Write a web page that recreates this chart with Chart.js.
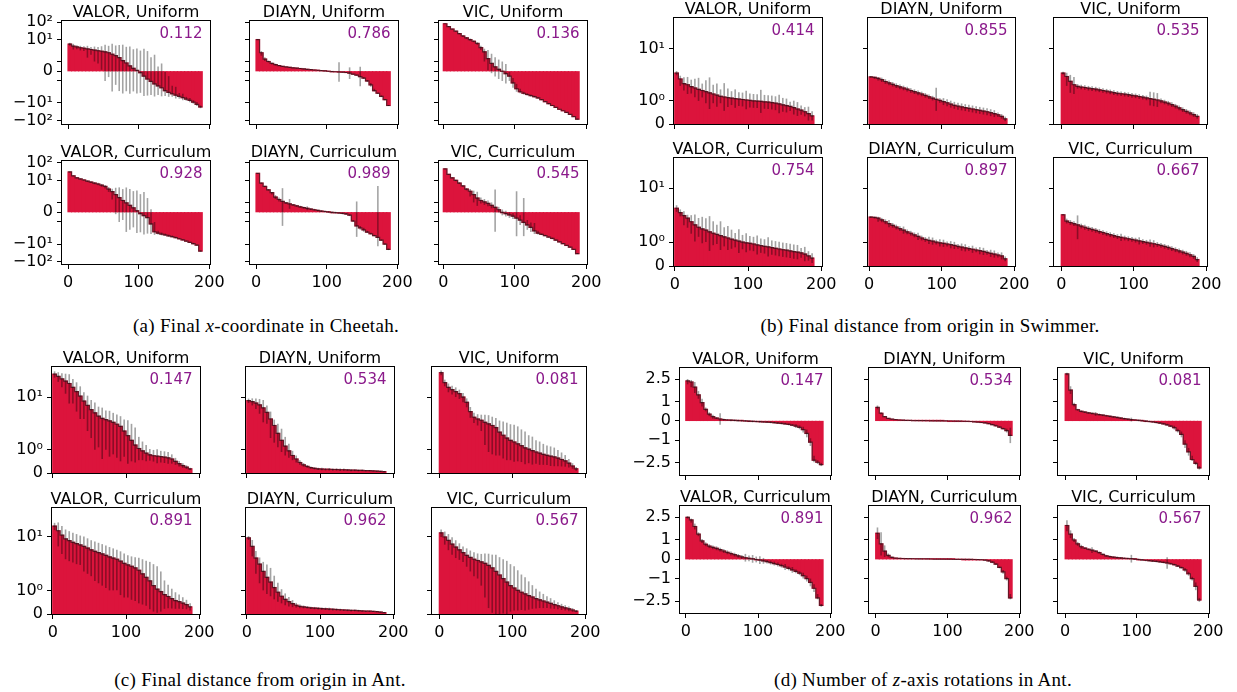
<!DOCTYPE html>
<html>
<head>
<meta charset="utf-8">
<title>Skill discovery rollouts</title>
<script src="https://cdn.jsdelivr.net/npm/chart.js"></script>
<style>
  body { margin:0; background:#fff; }
  #fig { position:relative; width:1237px; height:692px; overflow:hidden; font-family:'DejaVu Sans', sans-serif; }
  .plot { position:absolute; }
  .ttl { position:absolute; font-size:16px; line-height:16px; text-align:center; white-space:nowrap; color:#000; }
  .score { position:absolute; font-size:15px; line-height:16px; text-align:right; white-space:nowrap; color:#8b1a8b; }
  .cap { position:absolute; font-family:'Liberation Serif', serif; font-size:19px; letter-spacing:0.3px; line-height:20px; white-space:nowrap; transform:translateX(-50%); }
</style>
</head>
<body>
<div id="fig"></div>
<script>
// bar positions (every 5th rank), shared by all panels
const ranks = [0,5,10,15,20,25,30,35,40,45,50,55,60,65,70,75,80,85,90,95,100,105,110,115,120,125,130,135,140,145,150,155,160,165,170,175,180,185];
const lastRank = 190;
const xTicks = [0, 100, 200];
const methods = ['VALOR', 'DIAYN', 'VIC'];
const schedules = ['Uniform', 'Curriculum'];

// (a) cheetah final x
const aValorUni = [5.5,4.2,3.8,3.4,3.2,2.9,2.7,2.5,2.3,2.15,2.0,1.9,1.75,1.6,1.4,1.1,0.85,0.55,0.3,0.08,-0.15,-0.5,-0.8,-1.05,-1.3,-1.5,-1.7,-2.0,-2.5,-3.0,-3.6,-4.2,-5.0,-6.0,-7.2,-9,-12,-17];
const aDiaynUni = [10,1.9,1.25,1.0,0.8,0.68,0.58,0.5,0.44,0.4,0.35,0.32,0.28,0.24,0.2,0.17,0.13,0.1,0.06,0.03,0.0,-0.03,-0.05,-0.08,-0.1,-0.13,-0.2,-0.3,-0.4,-0.55,-0.7,-1.0,-1.4,-2.0,-2.8,-4.2,-6.5,-14];
const aVicUni = [80,55,40,30,22,16,12.5,10,8,6,3.5,2,1.3,0.8,0.45,0.2,0,-0.25,-0.5,-1.2,-1.8,-2.3,-2.8,-3.3,-3.8,-4.4,-5.2,-6.5,-8.5,-11,-14,-18,-23,-28,-35,-45,-60,-85];
const aValorCur = [30,18,14,12,10.5,9,8,7,6.2,5.3,4.5,3.2,2.3,1.8,1.5,1.2,0.95,0.7,0.45,0.15,-0.15,-0.35,-0.55,-1.2,-2.0,-2.4,-2.7,-3.0,-3.4,-3.8,-4.3,-5.0,-5.8,-6.8,-8.0,-9.5,-11.5,-25];
const aDiaynCur = [25,7,4.5,2.9,2.0,1.55,1.3,1.1,0.95,0.85,0.75,0.65,0.55,0.47,0.4,0.32,0.25,0.18,0.12,0.07,0.02,-0.02,-0.05,-0.08,-0.12,-0.18,-0.3,-0.9,-1.4,-1.6,-1.8,-2.1,-2.6,-3.3,-4.2,-6,-10,-20];
const aVicCur = [45,22,14,10,7,4.8,3.2,2.4,1.8,1.45,1.2,1.05,0.9,0.7,0.5,0.25,-0.02,-0.15,-0.28,-0.4,-0.6,-0.8,-1.05,-1.3,-1.55,-1.9,-2.4,-2.8,-3.3,-4.0,-4.8,-6,-7.5,-9.5,-12,-15,-20,-35];
const aValorUniErr = [1,1.5,1,1,1,1.5,1,1.5,1.5,2,3,2.5,4,3,3.5,4,3,3.5,2.5,3,2.5,3.5,3,2.5,3,2,2.5,2,2,1.5,2,1.5,2,1.5,2,2,3,3];
const aDiaynUniErr = [0.5,0.3,0.2,0.1,0.1,0.1,0.05,0.05,0.05,0.05,0.05,0.05,0.05,0.05,0.05,0.05,0.05,0.05,0.05,0.05,0.05,0.05,0.05,1.0,0.05,0.05,0.6,0.05,0.05,1.0,0.1,0.1,0.2,0.2,0.3,0.5,0.5,1];
const aVicUniErr = [3,3,2,2,2,2,1.5,1.5,1,1,1,1,1.2,1,1,1,1,1,0.5,0.5,0.5,0.5,0.5,0.5,0.5,0.5,0.5,0.5,0.5,1,1,1,1,1,2,2,3,5];
const aValorCurErr = [2,1,1,1,1,1,1,1,1,1,1,1,1,2,2.5,2,3,2.5,2,2.5,2,2.5,2,1.5,1,0.5,0.5,0.5,0.5,0.5,0.5,0.5,0.5,0.5,0.5,1,1,2];
const aDiaynCurErr = [1,0.5,0.5,0.3,0.2,0.2,0.2,2.5,0.1,0.5,0.1,0.1,0.1,0.1,0.2,0.1,0.1,0.1,0.1,0.1,0.1,0.1,0.1,0.1,0.1,0.1,0.1,0.1,2.5,0.2,0.2,0.2,0.3,0.3,9,0.5,1,2];
const aVicCurErr = [2,1,1,1,0.8,0.5,0.5,0.8,0.8,0.8,0.3,0.3,0.3,0.3,2.5,0.3,0.3,0.3,0.3,0.3,3,0.5,2.5,0.5,0.5,0.8,0.5,0.3,0.3,0.3,0.5,0.5,0.5,0.5,0.5,1,1,2];

// (b) swimmer distance
const bValorUni = [2.6,1.95,1.75,1.7,1.62,1.56,1.5,1.45,1.4,1.35,1.3,1.25,1.2,1.17,1.14,1.12,1.1,1.08,1.06,1.04,1.02,1.0,0.99,0.98,0.96,0.95,0.93,0.9,0.87,0.83,0.8,0.76,0.71,0.65,0.6,0.53,0.45,0.35];
const bDiaynUni = [2.1,2.05,1.98,1.92,1.84,1.78,1.72,1.66,1.61,1.56,1.51,1.45,1.4,1.35,1.3,1.24,1.18,1.12,1.07,1.02,0.97,0.92,0.86,0.81,0.77,0.74,0.71,0.68,0.65,0.62,0.59,0.56,0.53,0.49,0.45,0.4,0.33,0.22];
const bVicUni = [2.6,2.15,1.85,1.7,1.63,1.6,1.58,1.55,1.53,1.51,1.48,1.45,1.42,1.39,1.36,1.33,1.31,1.29,1.27,1.24,1.22,1.19,1.16,1.13,1.1,1.07,1.04,1.0,0.95,0.9,0.84,0.77,0.7,0.62,0.55,0.48,0.41,0.33];
const bValorCur = [3.4,2.7,2.3,2.0,1.85,1.72,1.62,1.55,1.5,1.43,1.37,1.32,1.27,1.22,1.17,1.12,1.08,1.04,1.0,0.97,0.95,0.92,0.88,0.85,0.82,0.8,0.77,0.74,0.71,0.68,0.66,0.63,0.6,0.58,0.55,0.5,0.42,0.33];
const bDiaynCur = [2.12,2.08,2.0,1.93,1.85,1.77,1.7,1.63,1.56,1.5,1.43,1.37,1.3,1.24,1.17,1.11,1.07,1.04,1.0,0.97,0.95,0.92,0.89,0.86,0.82,0.79,0.76,0.73,0.7,0.67,0.64,0.61,0.57,0.53,0.5,0.46,0.42,0.3];
const bVicCur = [2.4,1.88,1.82,1.77,1.72,1.67,1.62,1.57,1.53,1.49,1.44,1.4,1.35,1.31,1.27,1.23,1.2,1.17,1.14,1.11,1.08,1.05,1.02,0.99,0.96,0.93,0.9,0.86,0.82,0.78,0.73,0.68,0.63,0.58,0.53,0.47,0.4,0.27];
const bValorUniErr = [0.3,0.3,0.3,0.4,0.3,0.4,0.5,0.3,0.5,0.7,0.4,0.5,0.3,0.6,0.4,0.3,0.4,0.3,0.3,0.4,0.3,0.3,0.3,0.5,0.3,0.3,0.3,0.3,0.4,0.3,0.3,0.2,0.3,0.3,0.2,0.2,0.3,0.2];
const bDiaynUniErr = [0.1,0.1,0.1,0.1,0.1,0.1,0.1,0.1,0.1,0.1,0.1,0.1,0.1,0.1,0.1,0.1,0.1,0.1,0.5,0.1,0.15,0.15,0.15,0.15,0.15,0.15,0.15,0.15,0.15,0.15,0.15,0.15,0.15,0.15,0.15,0.1,0.1,0.1];
const bVicUniErr = [0.2,0.5,0.5,0.4,0.1,0.1,0.1,0.1,0.1,0.1,0.1,0.1,0.1,0.1,0.1,0.1,0.1,0.1,0.1,0.1,0.1,0.1,0.1,0.1,0.3,0.3,0.3,0.1,0.1,0.1,0.1,0.1,0.1,0.1,0.1,0.1,0.1,0.1];
const bValorCurErr = [0.6,0.5,0.6,0.4,0.5,0.7,0.4,0.6,0.5,0.8,0.5,0.4,0.6,0.4,0.5,0.4,0.3,0.5,0.3,0.4,0.3,0.3,0.4,0.3,0.3,0.4,0.3,0.3,0.3,0.3,0.3,0.3,0.3,0.3,0.2,0.3,0.2,0.2];
const bDiaynCurErr = [0.1,0.1,0.15,0.1,0.1,0.15,0.1,0.1,0.1,0.15,0.1,0.1,0.1,0.15,0.1,0.1,0.15,0.15,0.1,0.15,0.15,0.1,0.15,0.15,0.1,0.15,0.15,0.1,0.15,0.1,0.15,0.15,0.1,0.15,0.15,0.1,0.15,0.1];
const bVicCurErr = [0.1,0.1,0.1,0.1,0.6,0.1,0.1,0.1,0.1,0.1,0.1,0.1,0.1,0.1,0.1,0.1,0.15,0.1,0.1,0.1,0.1,0.15,0.1,0.1,0.15,0.15,0.1,0.1,0.1,0.1,0.1,0.1,0.1,0.1,0.1,0.1,0.1,0.1];

// (c) ant distance
const cValorUni = [35,31,27,24,21,17,13.5,10.5,8,6.3,5,4.2,3.5,3.1,2.9,2.7,2.5,2.25,2.0,1.8,1.6,1.4,1.2,1.05,0.95,0.85,0.78,0.74,0.72,0.7,0.68,0.65,0.6,0.5,0.4,0.32,0.25,0.18];
const cDiaynUni = [8.2,7.8,7.2,6.5,5.5,4.3,3.0,2.1,1.7,1.4,1.15,0.95,0.75,0.6,0.45,0.35,0.28,0.23,0.2,0.18,0.17,0.16,0.16,0.15,0.15,0.14,0.14,0.13,0.12,0.12,0.11,0.11,0.1,0.1,0.09,0.08,0.07,0.06];
const cVicUni = [38,22,17,15,13.5,12,10,7.5,4.5,3.3,3.0,2.8,2.5,2.3,2.1,1.95,1.75,1.62,1.5,1.4,1.33,1.25,1.17,1.08,1.02,0.96,0.9,0.85,0.8,0.76,0.72,0.69,0.64,0.58,0.52,0.42,0.3,0.18];
const cValorCur = [18,14,11,9,8.2,7.5,7,6.5,6,5.5,5,4.6,4.3,4.0,3.7,3.4,3.2,3.0,2.7,2.4,2.2,2.05,1.95,1.85,1.7,1.55,1.4,1.2,1.05,0.95,0.82,0.74,0.65,0.57,0.52,0.46,0.4,0.3];
const cDiaynCur = [9.5,6,3.2,2.3,1.8,1.55,1.35,1.12,0.92,0.75,0.62,0.52,0.44,0.37,0.32,0.3,0.28,0.26,0.25,0.24,0.23,0.22,0.21,0.2,0.19,0.18,0.17,0.16,0.15,0.15,0.14,0.13,0.12,0.12,0.11,0.1,0.08,0.06];
const cVicCur = [12.5,10,8.3,6.8,5.8,5.0,4.3,3.7,3.3,3.0,2.8,2.6,2.4,2.15,1.95,1.8,1.65,1.5,1.35,1.2,1.1,1.0,0.92,0.85,0.78,0.72,0.65,0.6,0.55,0.5,0.45,0.4,0.35,0.3,0.26,0.22,0.17,0.12];
const cValorUniErr = [6,8,10,12,14,10,9,7.5,5,4.5,3.5,3.2,2.4,2.5,1.9,2.0,1.7,1.6,1.5,1.1,1.2,0.9,0.75,0.5,0.4,0.35,0.25,0.25,0.3,0.25,0.25,0.25,0.2,0.15,0.12,0.1,0.08,0.05];
const cDiaynUniErr = [1,1.5,2,2.5,3,2,1.5,0.8,0.6,0.5,0.4,0.3,0.2,0.15,0.1,0.08,0.06,0.05,0.05,0.05,0.05,0.05,0.05,0.05,0.05,0.05,0.05,0.04,0.04,0.04,0.04,0.04,0.03,0.03,0.03,0.03,0.03,0.03];
const cVicUniErr = [5,4,4,3.5,3.5,3,2.5,1.8,1.3,0.9,0.9,1.0,1.3,1.4,1.3,1.2,1.0,1.0,0.95,0.85,0.85,0.75,0.7,0.7,0.6,0.6,0.5,0.5,0.45,0.42,0.42,0.4,0.35,0.3,0.25,0.18,0.12,0.08];
const cValorCurErr = [3.5,8,7,6,5.5,5,4.7,4.3,4.2,3.8,3.4,3.2,3,2.8,2.6,2.4,2.2,2.0,1.9,1.7,1.5,1.45,1.4,1.4,1.3,1.2,1.2,1.1,1.0,0.85,0.6,0.5,0.42,0.35,0.3,0.25,0.2,0.15];
const cDiaynCurErr = [1,2.5,1.5,1,0.8,0.7,0.6,0.5,0.4,0.3,0.25,0.2,0.15,0.1,0.08,0.06,0.05,0.05,0.05,0.05,0.05,0.05,0.05,0.05,0.05,0.04,0.04,0.04,0.04,0.04,0.04,0.03,0.03,0.03,0.03,0.03,0.03,0.02];
const cVicCurErr = [2.5,3.4,3.4,3,2.6,2.1,1.7,1.7,1.5,1.4,1.3,1.4,1.7,1.9,1.9,2.0,1.7,1.5,1.4,1.1,0.95,0.85,0.75,0.7,0.6,0.5,0.42,0.35,0.3,0.25,0.22,0.18,0.15,0.13,0.11,0.1,0.08,0.05];

// (d) ant z-rotations
const dValorUni = [2.2,2.05,1.75,1.35,0.95,0.6,0.35,0.22,0.15,0.1,0.07,0.05,0.04,0.03,0.02,0.01,0.0,-0.01,-0.02,-0.03,-0.04,-0.05,-0.06,-0.07,-0.09,-0.11,-0.13,-0.15,-0.18,-0.22,-0.27,-0.33,-0.45,-0.65,-1.1,-2.1,-2.4,-2.8];
const dDiaynUni = [0.7,0.4,0.22,0.13,0.09,0.07,0.05,0.04,0.03,0.025,0.02,0.018,0.015,0.012,0.01,0.008,0.006,0.004,0.002,0.0,-0.002,-0.004,-0.006,-0.01,-0.015,-0.02,-0.03,-0.045,-0.06,-0.08,-0.1,-0.14,-0.19,-0.25,-0.32,-0.4,-0.5,-0.75];
const dVicUni = [3.5,1.6,0.85,0.58,0.5,0.46,0.42,0.39,0.36,0.33,0.3,0.27,0.24,0.21,0.18,0.15,0.12,0.09,0.07,0.05,0.03,0.01,-0.01,-0.03,-0.05,-0.08,-0.11,-0.15,-0.2,-0.27,-0.35,-0.5,-0.7,-1.2,-1.6,-2.0,-2.6,-3.5];
const dValorCur = [2.5,2.1,1.7,1.3,0.95,0.78,0.68,0.62,0.57,0.5,0.43,0.36,0.3,0.24,0.18,0.12,0.08,0.05,0.02,-0.01,-0.04,-0.08,-0.12,-0.17,-0.22,-0.27,-0.33,-0.4,-0.47,-0.55,-0.63,-0.72,-0.85,-1.0,-1.2,-1.5,-2.0,-3.3];
const dDiaynCur = [1.35,0.8,0.42,0.2,0.1,0.06,0.045,0.04,0.035,0.03,0.028,0.025,0.022,0.02,0.018,0.015,0.012,0.01,0.008,0.006,0.004,0.002,0.0,0.0,-0.002,-0.004,-0.006,-0.01,-0.015,-0.025,-0.04,-0.08,-0.15,-0.25,-0.42,-0.65,-1.0,-2.0];
const dVicCur = [1.75,1.3,1.0,0.8,0.65,0.58,0.52,0.47,0.42,0.35,0.25,0.18,0.14,0.11,0.09,0.07,0.05,0.04,0.03,0.01,-0.01,-0.03,-0.05,-0.07,-0.09,-0.11,-0.13,-0.16,-0.19,-0.23,-0.28,-0.35,-0.43,-0.55,-0.75,-1.0,-1.4,-2.3];
const dValorUniErr = [0.3,0.3,0.3,0.2,0.2,0.1,0.1,0.1,0.05,0.3,0.05,0.05,0.05,0.05,0.05,0.05,0.05,0.05,0.05,0.05,0.05,0.05,0.05,0.05,0.05,0.05,0.05,0.05,0.05,0.05,0.1,0.1,0.15,0.2,0.2,0.3,0.3,0.3];
const dDiaynUniErr = [0.1,0.05,0.03,0.02,0.02,0.02,0.02,0.02,0.02,0.02,0.02,0.02,0.02,0.02,0.02,0.02,0.02,0.02,0.02,0.02,0.02,0.02,0.02,0.02,0.02,0.02,0.02,0.02,0.02,0.02,0.03,0.03,0.04,0.05,0.05,0.05,0.1,0.4];
const dVicUniErr = [0.3,0.2,0.1,0.05,0.05,0.05,0.05,0.05,0.1,0.05,0.05,0.05,0.05,0.05,0.05,0.05,0.05,0.05,0.1,0.05,0.05,0.05,0.05,0.05,0.05,0.05,0.05,0.05,0.05,0.05,0.1,0.1,0.15,0.2,0.2,0.2,0.3,0.4];
const dValorCurErr = [0.2,0.2,0.15,0.1,0.1,0.1,0.1,0.1,0.1,0.1,0.1,0.1,0.1,0.1,0.1,0.1,0.2,0.15,0.2,0.15,0.2,0.15,0.1,0.1,0.1,0.1,0.1,0.15,0.1,0.15,0.1,0.1,0.15,0.15,0.2,0.2,0.2,0.3];
const dDiaynCurErr = [0.3,0.6,0.3,0.1,0.05,0.02,0.02,0.02,0.02,0.02,0.02,0.02,0.02,0.02,0.02,0.02,0.02,0.02,0.02,0.02,0.02,0.02,0.02,0.02,0.02,0.02,0.02,0.02,0.02,0.02,0.03,0.05,0.05,0.05,0.05,0.1,0.1,0.2];
const dVicCurErr = [0.3,0.2,0.1,0.1,0.1,0.05,0.05,0.15,0.05,0.05,0.05,0.05,0.05,0.05,0.05,0.05,0.05,0.05,0.2,0.05,0.05,0.05,0.05,0.05,0.05,0.05,0.05,0.05,0.3,0.05,0.05,0.05,0.05,0.1,0.1,0.1,0.2,0.3];

// scores printed in each subplot (row-major)
const cheetahScores = [0.112, 0.786, 0.136, 0.928, 0.989, 0.545];
const swimmerScores = [0.414, 0.855, 0.535, 0.754, 0.897, 0.667];
const antDistScores = [0.147, 0.534, 0.081, 0.891, 0.962, 0.567];
const antRotScores  = [0.147, 0.534, 0.081, 0.891, 0.962, 0.567];

// y ticks
const cheetahTicks = [100, 10, 1, 0, -1, -10, -100];
const cheetahTickLabels = ['10\u00b2', '10\u00b9', '', '0', '', '\u221210\u00b9', '\u221210\u00b2'];
const distTicks = [10, 1, 0];
const distTickLabels = ['10\u00b9', '10\u2070', '0'];
const rotTicks = [2.5, 1, 0, -1, -2.5];
const rotTickLabels = ['2.5', '1', '0', '\u22121', '\u22122.5'];

const captions = [
  '(a) Final <i>x</i>-coordinate in Cheetah.',
  '(b) Final distance from origin in Swimmer.',
  '(c) Final distance from origin in Ant.',
  '(d) Number of <i>z</i>-axis rotations in Ant.'
];

// symlog, linthresh 2, linscale 1 (matplotlib style)
const LT = 2, LS = 1 / (1 - 0.1);
function symlog(v) {
  const a = Math.abs(v);
  const t = a <= LT ? a * LS : LT * (LS + Math.log10(a / LT));
  return v < 0 ? -t : t;
}

const panels = [
  { vals: [[aValorUni, aDiaynUni, aVicUni], [aValorCur, aDiaynCur, aVicCur]],
    errs: [[aValorUniErr, aDiaynUniErr, aVicUniErr], [aValorCurErr, aDiaynCurErr, aVicCurErr]],
    scores: cheetahScores, ticks: cheetahTicks, tickLabels: cheetahTickLabels,
    ylim: [[-160, 115], [-136, 126]],
    left: [62, 250, 439], width: [148, 148, 148], top: [21, 161], height: [103, 103], xmin: [-8.5, -8.5, -6],
    cap: captions[0], capX: 266, capY: 316 },
  { vals: [[bValorUni, bDiaynUni, bVicUni], [bValorCur, bDiaynCur, bVicCur]],
    errs: [[bValorUniErr, bDiaynUniErr, bVicUniErr], [bValorCurErr, bDiaynCurErr, bVicCurErr]],
    scores: swimmerScores, ticks: distTicks, tickLabels: distTickLabels,
    ylim: [[0, 55], [0, 50]],
    left: [674, 868, 1054], width: [148, 147, 153], top: [18, 158], height: [106, 108], xmin: [-1, -1.4, -10],
    cap: captions[1], capX: 930, capY: 316 },
  { vals: [[cValorUni, cDiaynUni, cVicUni], [cValorCur, cDiaynCur, cVicCur]],
    errs: [[cValorUniErr, cDiaynUniErr, cVicUniErr], [cValorCurErr, cDiaynCurErr, cVicCurErr]],
    scores: antDistScores, ticks: distTicks, tickLabels: distTickLabels,
    ylim: [[0, 52], [0, 48]],
    left: [52, 246, 432], width: [148, 148, 154], top: [367, 508], height: [106, 106], xmin: [-1, -1, -10],
    cap: captions[2], capX: 260, capY: 670 },
  { vals: [[dValorUni, dDiaynUni, dVicUni], [dValorCur, dDiaynCur, dVicCur]],
    errs: [[dValorUniErr, dDiaynUniErr, dVicUniErr], [dValorCurErr, dDiaynCurErr, dVicCurErr]],
    scores: antRotScores, ticks: rotTicks, tickLabels: rotTickLabels,
    ylim: [[-5.6, 5.2], [-5.45, 5.3]],
    left: [680, 869, 1058], width: [151, 151, 151], top: [368, 506], height: [107, 107], xmin: [-8, -9.3, -10],
    cap: captions[3], capX: 923, capY: 670 }
];

Chart.defaults.font.family = 'DejaVu Sans';
Chart.defaults.color = '#000';

const frame = {
  id: 'frame',
  afterDatasetsDraw(chart) {
    const { ctx, chartArea: a } = chart;
    ctx.save();
    ctx.strokeStyle = '#000';
    ctx.lineWidth = 1;
    ctx.strokeRect(a.left - 0.5, a.top - 0.5, a.right - a.left + 1, a.bottom - a.top + 1);
    ctx.restore();
  }
};

const fig = document.getElementById('fig');
const PL = 60, PT = 10, PR = 24, PB = 30;

function addPlot(p, r, c) {
  const L = p.left[c], T = p.top[r], W = p.width[c], H = p.height[r];
  const vals = p.vals[r][c], errs = p.errs[r][c];

  const wrap = document.createElement('div');
  wrap.className = 'plot';
  wrap.style.left = (L - PL) + 'px';
  wrap.style.top = (T - PT) + 'px';
  const cv = document.createElement('canvas');
  cv.width = W + PL + PR;
  cv.height = H + PT + PB;
  wrap.appendChild(cv);
  fig.appendChild(wrap);

  const tickGrid = { display: true, drawOnChartArea: false, drawTicks: true, tickLength: 5, color: '#000', offset: false };
  // outline of the bar tops: each level held from a bar's left edge to the next one
  const edge = ranks.map((x, i) => ({ x: x, y: symlog(vals[i]) }));
  edge.push({ x: lastRank, y: symlog(vals[vals.length - 1]) });

  new Chart(cv, {
    type: 'bar',
    data: {
      datasets: [
        { data: ranks.map((x, i) => ({ x: x + 2.5, y: [symlog(vals[i] - errs[i]), symlog(vals[i] + errs[i])] })),
          backgroundColor: 'rgba(0,0,0,0.36)', barPercentage: 0.45, categoryPercentage: 1, grouped: false, order: 0 },
        { type: 'line', data: edge, stepped: 'before', borderColor: 'rgba(25,25,25,0.6)', borderWidth: 1.2,
          pointRadius: 0, fill: false, order: 1 },
        { data: ranks.map((x, i) => ({ x: x + 2.5, y: symlog(vals[i]) })),
          backgroundColor: '#dc143c', borderWidth: 0, inflateAmount: 0.6,
          barPercentage: 1, categoryPercentage: 1, grouped: false, order: 2 }
      ]
    },
    options: {
      responsive: false, animation: false, events: [],
      layout: { padding: { left: 0, top: PT, right: PR, bottom: 0 } },
      plugins: { legend: { display: false }, tooltip: { enabled: false } },
      scales: {
        x: {
          type: 'linear', offset: false, min: p.xmin[c], max: 201,
          afterBuildTicks: s => { s.ticks = xTicks.map(v => ({ value: v })); },
          afterFit: s => { s.height = PB; s.paddingLeft = 0; s.paddingRight = 0; },
          ticks: { autoSkip: false, maxRotation: 0, padding: 4, font: { size: 16 },
                   callback: (v, i) => r === 1 ? String(xTicks[i]) : '' },
          grid: tickGrid, border: { display: false }
        },
        y: {
          type: 'linear', min: symlog(p.ylim[r][0]), max: symlog(p.ylim[r][1]),
          afterBuildTicks: s => { s.ticks = p.ticks.map(v => ({ value: symlog(v) })); },
          afterFit: s => { s.width = PL; s.paddingTop = 0; s.paddingBottom = 0; },
          ticks: { autoSkip: false, padding: 4, font: { size: 16 },
                   callback: (v, i) => c === 0 ? p.tickLabels[i] : '' },
          grid: tickGrid, border: { display: false }
        }
      }
    },
    plugins: [frame]
  });

  const t = document.createElement('div');
  t.className = 'ttl';
  t.style.left = (L - 60) + 'px';
  t.style.width = (W + 120) + 'px';
  t.style.top = (T - 17.5) + 'px';
  t.textContent = methods[c] + ', ' + schedules[r];
  fig.appendChild(t);

  const s = document.createElement('div');
  s.className = 'score';
  s.style.left = L + 'px';
  s.style.width = (W - 7.5) + 'px';
  s.style.top = (T + 3.8) + 'px';
  s.textContent = p.scores[r * 3 + c].toFixed(3);
  fig.appendChild(s);
}

panels.forEach(p => {
  for (let r = 0; r < 2; r++) for (let c = 0; c < 3; c++) addPlot(p, r, c);
  const cap = document.createElement('div');
  cap.className = 'cap';
  cap.style.left = p.capX + 'px';
  cap.style.top = p.capY + 'px';
  cap.innerHTML = p.cap;
  fig.appendChild(cap);
});
</script>
</body>
</html>
